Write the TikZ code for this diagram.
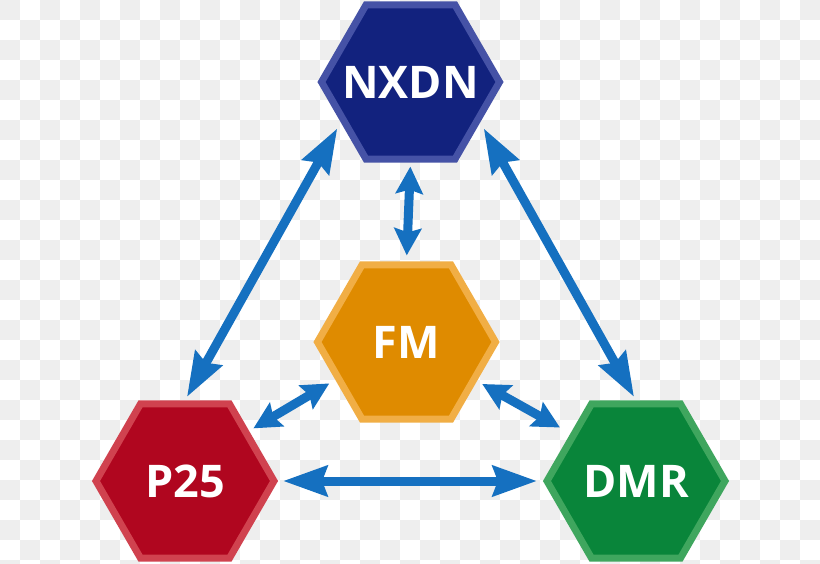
\documentclass[tikz,border=0pt]{standalone}
\usepackage{fontspec}
\setsansfont{Open Sans}
\usetikzlibrary{arrows.meta, shapes.geometric}

\definecolor{nxdnfill}{HTML}{12227E}
\definecolor{nxdnedge}{HTML}{4552A6}
\definecolor{fmfill}{HTML}{DF8B00}
\definecolor{fmedge}{HTML}{F1AE45}
\definecolor{pfill}{HTML}{B0061F}
\definecolor{pedge}{HTML}{D0424F}
\definecolor{dmrfill}{HTML}{09853A}
\definecolor{dmredge}{HTML}{3FA65E}
\definecolor{arrowblue}{HTML}{1570C0}
\definecolor{checker}{HTML}{EEEEEE}

\newcommand{\hexlabel}[1]{\makebox[0pt]{#1}}

\begin{document}
\begin{tikzpicture}[
    x=1pt, y=-1pt,
    hexnode/.style = {regular polygon, regular polygon sides=6,
                      minimum size=178pt, inner sep=0pt, outer sep=3.5pt,
                      line width=7pt, line join=miter, text=white,
                      font=\sffamily\bfseries\fontsize{45}{45}\selectfont},
    tipbig/.tip    = {Stealth[length=44pt, width=30pt, inset=5pt]},
    tipsmall/.tip  = {Stealth[length=27pt, width=27pt, inset=4pt]},
    arr/.style     = {tipbig-tipbig, line width=9pt, draw=arrowblue},
    sarr/.style    = {tipsmall-tipsmall, line width=9pt, draw=arrowblue},
]

\useasboundingbox (0,0) rectangle (820,563);

%% Checkered background
\fill[white] (0,0) rectangle (820,563);
\foreach \i in {0,...,40} {
  \foreach \j in {0,...,28} {
    \pgfmathtruncatemacro\k{mod(\i+\j,2)}
    \ifnum\k=0 \fill[checker] (\i*20,\j*20) rectangle ++(20,20); \fi
  }
}

%% Protocol hexagons
\node[hexnode, fill=nxdnfill, draw=nxdnedge] (nxdn) at (410.5,82)  {\hexlabel{NXDN}};
\node[hexnode, fill=fmfill,   draw=fmedge]   (fm)   at (406.5,342) {\hexlabel{FM}};
\node[hexnode, fill=pfill,    draw=pedge]    (p25)  at (185,481)   {\hexlabel{P25}};
\node[hexnode, fill=dmrfill,  draw=dmredge]  (dmr)  at (636,481)   {\hexlabel{DMR}};

%% Outer triangle
\draw[arr, shorten <=4pt, shorten >=7pt] (p25.north) -- (nxdn.side 3);
\draw[arr, shorten <=7pt, shorten >=4pt] (nxdn.side 5) -- (dmr.north);
\draw[arr, shorten <=5pt, shorten >=6pt] (p25.east) -- (dmr.west);

%% Links to FM
\draw[sarr, shorten <=4pt, shorten >=6pt] (nxdn.south) -- (fm.north);
\draw[sarr, shorten <=5pt, shorten >=7pt] (p25.38) -- (fm.208);
\draw[sarr, shorten <=6pt, shorten >=12pt] (fm.331) -- (dmr.144);

\end{tikzpicture}
\end{document}
